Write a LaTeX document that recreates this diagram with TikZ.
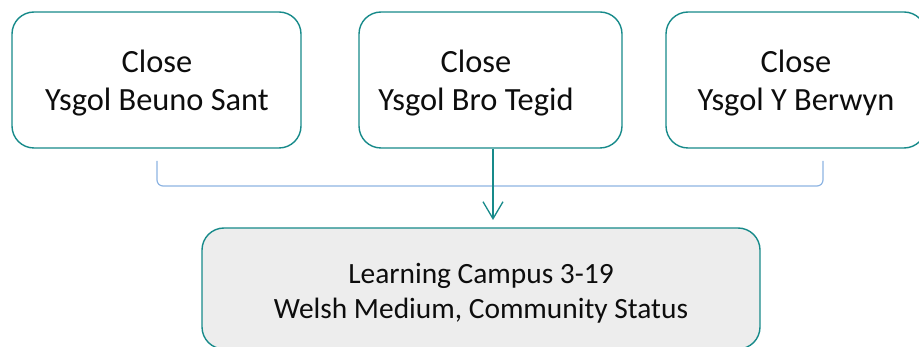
\documentclass[tikz,border=0pt]{standalone}
\usepackage{fontspec}
\setmainfont{Carlito}
\usetikzlibrary{arrows.meta}
\definecolor{tealline}{HTML}{178A8A}
\definecolor{bracketblue}{HTML}{8DB4E2}
\definecolor{boxgrey}{HTML}{EDEDED}
\definecolor{txt}{HTML}{0D0D0D}
\begin{document}
\begin{tikzpicture}[x=1pt,y=-1pt,
  schoolbox/.style={draw=tealline, line width=1.4pt, rounded corners=22pt, fill=white, inner sep=0pt, minimum height=136pt},
  campusbox/.style={draw=tealline, line width=1.4pt, rounded corners=22pt, fill=boxgrey, inner sep=0pt, minimum width=558pt, minimum height=121pt},
  toptext/.style={text=txt, align=center, inner sep=0pt, font=\fontsize{32.4pt}{38pt}\selectfont},
  bottext/.style={text=txt, align=center, inner sep=0pt, font=\fontsize{29.4pt}{35pt}\selectfont},
  bracket/.style={draw=bracketblue, line width=1.2pt, rounded corners=6pt},
  downarrow/.style={draw=tealline, line width=1.3pt, -{Straight Barb[length=17pt,width=20pt,line width=1.3pt]}}
]
\useasboundingbox (0,0) rectangle (919,347);
\node[schoolbox, minimum width=289pt] (b1) at (156.5,80) {};
\node[schoolbox, minimum width=263pt] (b2) at (490.5,80) {};
\node[schoolbox, minimum width=260pt] (b3) at (796,80) {};
\node[campusbox] (c) at (481,288.5) {};
\node[toptext] (t1) at (157,83) {Close\\Ysgol Beuno Sant};
\node[toptext] (t2) at (476,83) {Close\\Ysgol Bro Tegid};
\node[toptext] (t3) at (796,83) {Close\\Ysgol Y Berwyn};
\node[bottext] (tc) at (481,293.3) {Learning Campus 3-19\\Welsh Medium, Community Status};
\coordinate (bl) at (157,161);
\coordinate (br) at (823,161);
\coordinate (ae) at (493,220);
\draw[bracket] (bl) -- (157,186) -- (823,186) -- (br);
\draw[downarrow] (b2.south -| ae) -- (ae);
\end{tikzpicture}
\end{document}
